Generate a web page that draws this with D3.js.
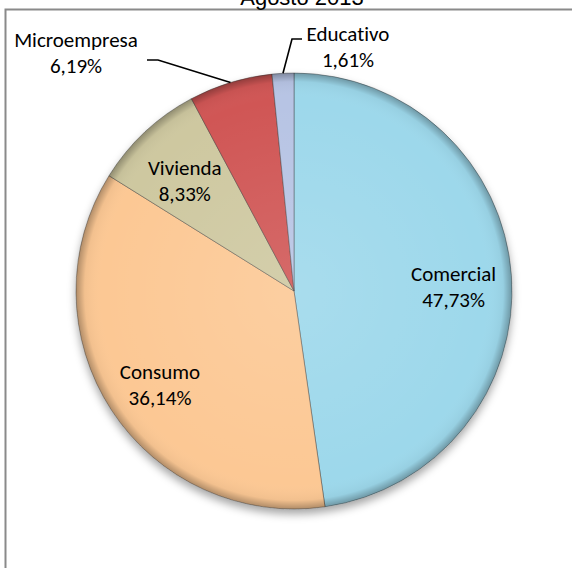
<!DOCTYPE html>
<html>
<head>
<meta charset="utf-8">
<script src="https://cdn.jsdelivr.net/npm/d3@7"></script>
<style>
  body { margin: 0; background: #fff; }
  svg { display: block; }
  text { font-family: Carlito, Calibri, Lato, "Open Sans", sans-serif; fill: #000; font-variant-ligatures: none; }
</style>
</head>
<body>
<div id="chart"></div>
<script>
// data
var categories = ["Comercial", "Consumo", "Vivienda", "Microempresa", "Educativo"];
var values = [47.73, 36.14, 8.33, 6.19, 1.61];
var colors = ["#9dd8eb", "#fcc894", "#cec8a0", "#d05654", "#b7c4e4"];
var title = "Agosto 2013";

var width = 572, height = 568;
var cx = 294, cy = 291, radius = 218;

var svg = d3.select("#chart")
    .append("svg")
    .attr("width", width)
    .attr("height", height);

var defs = svg.append("defs");

// soft shadow under the pie
var f = defs.append("filter").attr("id", "shadow")
    .attr("x", "-20%").attr("y", "-20%").attr("width", "140%").attr("height", "140%");
f.append("feDropShadow")
    .attr("dx", 0).attr("dy", 5)
    .attr("stdDeviation", 4)
    .attr("flood-color", "#000")
    .attr("flood-opacity", 0.35);

// rim darkening, bevel-ish
var rg = defs.append("radialGradient").attr("id", "rim")
    .attr("gradientUnits", "userSpaceOnUse")
    .attr("cx", 0).attr("cy", 0).attr("r", radius);
rg.append("stop").attr("offset", "0%").attr("stop-color", "#fff").attr("stop-opacity", 0.12);
rg.append("stop").attr("offset", "88%").attr("stop-color", "#fff").attr("stop-opacity", 0);
rg.append("stop").attr("offset", "96%").attr("stop-color", "#000").attr("stop-opacity", 0.04);
rg.append("stop").attr("offset", "100%").attr("stop-color", "#000").attr("stop-opacity", 0.3);

// frame (cut by the page like the original)
svg.append("rect")
    .attr("x", 5.5).attr("y", 9.5)
    .attr("width", width + 20).attr("height", height + 20)
    .attr("fill", "none")
    .attr("stroke", "#8a8a8a")
    .attr("stroke-width", 2);

// title sits mostly above the page, as in the original
svg.append("text")
    .attr("x", cx + 8)
    .attr("y", 5)
    .attr("text-anchor", "middle")
    .style("font-family", "'Liberation Sans', Arial, sans-serif")
    .style("font-size", "22px")
    .text(title);

var pie = d3.pie().sort(null).value(function (d) { return d; });
var arcs = pie(values);

var arc = d3.arc().innerRadius(0).outerRadius(radius);
var labelArc = d3.arc().innerRadius(160).outerRadius(160);
var edgeArc = d3.arc().innerRadius(radius).outerRadius(radius);

var g = svg.append("g")
    .attr("transform", "translate(" + cx + "," + cy + ")");

g.append("g")
    .attr("filter", "url(#shadow)")
    .selectAll("path")
    .data(arcs)
    .enter()
    .append("path")
    .attr("d", arc)
    .style("fill", function (d, i) { return colors[i]; })
    .attr("stroke", "rgba(60,60,60,0.55)")
    .attr("stroke-width", 0.8);

g.append("g")
    .selectAll("path")
    .data(arcs)
    .enter()
    .append("path")
    .attr("d", arc)
    .attr("fill", "url(#rim)");

function fmt(v) {
    return d3.format(".2f")(v).replace(".", ",") + "%";
}

// small slices get outside labels with a leader line
var outside = {
    3: {elbow: [-136, -231], end: [-147, -231], label: [-218, -244]},
    4: {elbow: [-2, -252], end: [8, -252], label: [54, -250]}
};

var lines = 26;

arcs.forEach(function (d, i) {
    var p, o = outside[i];
    if (o) {
        var e = edgeArc.centroid(d);
        g.append("polyline")
            .attr("points", [e, o.elbow, o.end].map(function (q) { return q.join(","); }).join(" "))
            .attr("fill", "none")
            .attr("stroke", "#000")
            .attr("stroke-width", 1.6);
        p = o.label;
    } else {
        p = labelArc.centroid(d);
        p = [p[0], p[1] + 1];
    }
    var t = g.append("text")
        .attr("text-anchor", "middle")
        .style("font-size", "21px")
        .attr("transform", "translate(" + p[0] + "," + p[1] + ")");
    t.append("tspan").attr("x", 0).attr("y", 0).text(categories[i]);
    t.append("tspan").attr("x", 0).attr("y", lines).text(fmt(values[i]));
});
</script>
</body>
</html>
